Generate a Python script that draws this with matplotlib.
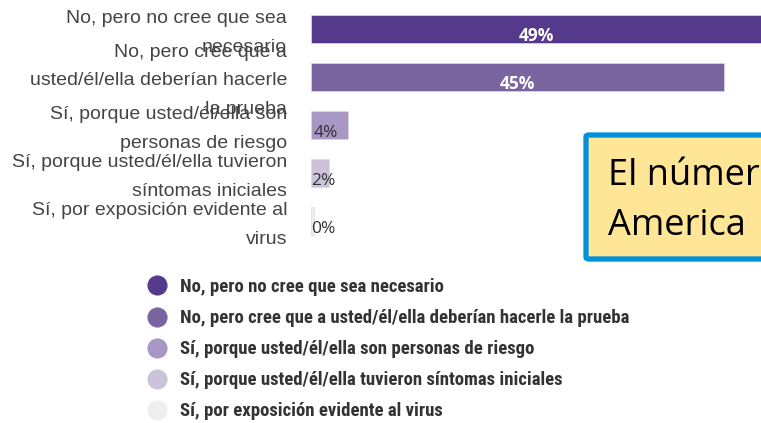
import matplotlib
matplotlib.use("Agg")
import matplotlib.pyplot as plt
from matplotlib import font_manager as fm
from matplotlib.lines import Line2D
from matplotlib.patches import FancyBboxPatch

# ---- data ----
bar_labels = [
    "No, pero no cree que sea\nnecesario",
    "No, pero cree que a\nusted/él/ella deberían hacerle\nla prueba",
    "Sí, porque usted/él/ella son\npersonas de riesgo",
    "Sí, porque usted/él/ella tuvieron\nsíntomas iniciales",
    "Sí, por exposición evidente al\nvirus",
]
legend_labels = [
    "No, pero no cree que sea necesario",
    "No, pero cree que a usted/él/ella deberían hacerle la prueba",
    "Sí, porque usted/él/ella son personas de riesgo",
    "Sí, porque usted/él/ella tuvieron síntomas iniciales",
    "Sí, por exposición evidente al virus",
]
values = [49, 45, 4, 2, 0.3]
value_texts = ["49%", "45%", "4%", "2%", "0%"]
colors = ["#553A8B", "#7A64A0", "#A896C4", "#CCC3DB", "#EEEEEE"]
overlay_lines = ["El númer", "America"]

available = {f.name for f in fm.fontManager.ttflist}
narrow_font = next((n for n in ["Liberation Sans Narrow", "Roboto Condensed",
                                "Archivo Narrow", "Asap Condensed"] if n in available),
                   "DejaVu Sans")

W, H = 761, 423
fig = plt.figure(figsize=(W / 100, H / 100), dpi=100)
fig.patch.set_facecolor("white")

# axes: x from 311px to 761px, y from 5px to 245px (top-down)
ax = fig.add_axes([311 / W, (H - 245) / H, 450 / W, 240 / H])
ypos = list(range(len(values)))
ax.barh(ypos, values, height=0.6, color=colors, edgecolor="#DDD8E8", linewidth=0.5)
ax.set_xlim(0, 49)
ax.set_ylim(4.5, -0.5)
ax.axis("off")

for i, (lab, v, t) in enumerate(zip(bar_labels, values, value_texts)):
    ax.annotate(lab, xy=(0, i), xytext=(-24, -4), textcoords="offset pixels",
                ha="right", va="center", fontsize=14, color="#444444",
                family="Liberation Sans", linespacing=1.85, annotation_clip=False)
    if v >= 10:
        ax.annotate(t, xy=(v / 2, i), xytext=(0, -7), textcoords="offset pixels",
                    ha="center", va="center", fontsize=12.5, color="white",
                    fontweight="bold", family="Open Sans")
    else:
        ax.annotate(t, xy=(0, i), xytext=(3 if v >= 3 else 0, -8), textcoords="offset pixels",
                    ha="left", va="center", fontsize=12.5, color="#333333",
                    family="Open Sans")

# legend
handles = [Line2D([0], [0], marker="o", linestyle="none", markersize=13.5,
                  markerfacecolor=c, markeredgecolor=c) for c in colors]
leg = fig.legend(handles, legend_labels, loc="upper left",
                 bbox_to_anchor=(148 / W, (H - 278) / H), frameon=False,
                 handlelength=1.0, handletextpad=0.7, labelspacing=0.7,
                 borderpad=0, borderaxespad=0,
                 prop={"family": narrow_font, "weight": "bold", "size": 13.5})
for txt in leg.get_texts():
    txt.set_color("#333333")

# overlay box (clipped by the figure edge)
box = FancyBboxPatch((586 / W, (H - 259) / H), 250 / W, 124 / H,
                     boxstyle="round,pad=0,rounding_size=0.004",
                     transform=fig.transFigure, facecolor="#FFE596",
                     edgecolor="#0091D9", linewidth=3.8, clip_on=False)
fig.patches.append(box)
fig.text(608 / W, (H - 185) / H, overlay_lines[0], fontsize=26, family="Open Sans",
         color="black", va="baseline", ha="left")
fig.text(608 / W, (H - 235) / H, overlay_lines[1], fontsize=26, family="Open Sans",
         color="black", va="baseline", ha="left")

fig.savefig("out.png", dpi=100, facecolor="white")
